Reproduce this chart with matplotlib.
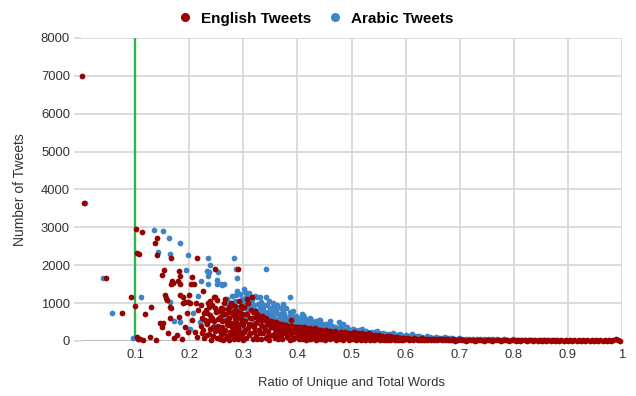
import matplotlib
matplotlib.use("Agg")
import matplotlib.pyplot as plt
from matplotlib.lines import Line2D

plt.rcParams["font.family"] = ["Liberation Sans", "DejaVu Sans"]

# (ratio of unique to total words, number of tweets)
english_points = [
    (0.002, 7000), (0.005, 3650), (0.046, 1660), (0.076, 740), (0.092, 1160), (0.100, 920),
    (0.102, 2960), (0.113, 2880), (0.104, 2320), (0.107, 2300), (0.105, 50), (0.114, 20),
    (0.141, 2730), (0.136, 2580), (0.140, 2270), (0.166, 2200), (0.214, 2190), (0.154, 1880),
    (0.150, 1740), (0.182, 1850), (0.183, 1720), (0.205, 1700), (0.168, 1580), (0.170, 1530),
    (0.166, 1500), (0.180, 1580), (0.183, 1500), (0.203, 1500), (0.209, 1500), (0.248, 1900),
    (0.226, 1320), (0.200, 1210), (0.155, 1210), (0.157, 1130), (0.129, 900), (0.166, 860),
    (0.189, 1000), (0.192, 1020), (0.198, 1040), (0.213, 1000), (0.248, 1170), (0.238, 1060),
    (0.291, 1890), (0.146, 470), (0.149, 380), (0.161, 200), (0.165, 600), (0.177, 160),
    (0.195, 730), (0.192, 380), (0.198, 250), (0.214, 110), (0.128, 110), (0.139, 30),
    (0.109, 40), (0.103, 100), (0.232, 730), (0.238, 550), (0.244, 380), (0.165, 900),
    (0.158, 1080), (0.201, 1000), (0.183, 1210), (0.189, 1170), (0.118, 700), (0.152, 470),
    (0.172, 80), (0.186, 40), (0.205, 560), (0.210, 250), (0.217, 820), (0.182, 640),
    (0.316, 1150), (0.388, 550), (0.423, 310),
    # 0.22 - 0.30
    (0.221, 950), (0.224, 620), (0.226, 300), (0.228, 80), (0.231, 820), (0.233, 440),
    (0.236, 180), (0.239, 690), (0.241, 30), (0.243, 960), (0.245, 520), (0.247, 260),
    (0.249, 760), (0.251, 90), (0.252, 1080), (0.254, 400), (0.256, 640), (0.258, 170),
    (0.259, 880), (0.261, 530), (0.263, 20), (0.264, 990), (0.266, 300), (0.268, 720),
    (0.269, 450), (0.271, 120), (0.272, 850), (0.274, 600), (0.276, 240), (0.277, 1000),
    (0.279, 380), (0.281, 680), (0.282, 60), (0.284, 920), (0.286, 510), (0.287, 200),
    (0.289, 780), (0.291, 340), (0.292, 1050), (0.294, 600), (0.296, 110), (0.297, 860),
    (0.299, 430), (0.301, 250),
    (0.222, 400), (0.227, 740), (0.232, 150), (0.237, 900), (0.242, 600), (0.246, 1150),
    (0.250, 350), (0.255, 800), (0.257, 50), (0.262, 700), (0.265, 200), (0.267, 1100),
    (0.270, 560), (0.273, 30), (0.275, 930), (0.278, 480), (0.280, 140), (0.283, 800),
    (0.285, 300), (0.288, 650), (0.290, 40), (0.293, 460), (0.295, 930), (0.298, 180),
    (0.300, 700),
    (0.223, 210), (0.229, 560), (0.234, 1000), (0.238, 320), (0.244, 130), (0.248, 880),
    (0.253, 580), (0.256, 260), (0.260, 380), (0.263, 850), (0.268, 80), (0.271, 410),
    (0.274, 760), (0.279, 950), (0.281, 260), (0.284, 570), (0.287, 420), (0.289, 110),
    (0.292, 240), (0.294, 750), (0.297, 560), (0.299, 30),
    # 0.30 - 0.40
    (0.302, 900), (0.303, 520), (0.305, 80), (0.306, 700), (0.308, 330), (0.309, 1000),
    (0.311, 160), (0.312, 610), (0.314, 820), (0.315, 420), (0.317, 40), (0.318, 760),
    (0.320, 250), (0.321, 640), (0.323, 480), (0.324, 130), (0.326, 700), (0.327, 560),
    (0.329, 300), (0.330, 620), (0.332, 60), (0.333, 420), (0.335, 660), (0.336, 200),
    (0.338, 560), (0.339, 380), (0.341, 90), (0.342, 600), (0.344, 460), (0.345, 260),
    (0.347, 540), (0.348, 30), (0.350, 420), (0.351, 520), (0.353, 150), (0.354, 480),
    (0.356, 330), (0.357, 500), (0.359, 70), (0.360, 440), (0.362, 240), (0.363, 480),
    (0.365, 380), (0.366, 120), (0.368, 450), (0.369, 300), (0.371, 460), (0.372, 40),
    (0.374, 400), (0.375, 200), (0.377, 420), (0.378, 320), (0.380, 100), (0.381, 400),
    (0.383, 260), (0.384, 380), (0.386, 30), (0.387, 360), (0.389, 180), (0.390, 390),
    (0.392, 300), (0.393, 80), (0.395, 360), (0.396, 240), (0.398, 380), (0.399, 140),
    (0.304, 300), (0.307, 1100), (0.310, 460), (0.313, 220), (0.316, 620), (0.319, 380),
    (0.322, 800), (0.325, 50), (0.328, 660), (0.331, 200), (0.334, 560), (0.337, 640),
    (0.340, 300), (0.343, 520), (0.346, 140), (0.349, 500), (0.352, 360), (0.355, 440),
    (0.358, 200), (0.361, 500), (0.364, 60), (0.367, 400), (0.370, 160), (0.373, 430),
    (0.376, 380), (0.379, 420), (0.382, 160), (0.385, 340), (0.388, 400), (0.391, 60),
    (0.394, 280), (0.397, 360),
    # 0.40 - 0.50
    (0.401, 380), (0.403, 60), (0.404, 380), (0.406, 250), (0.407, 340), (0.409, 120),
    (0.410, 340), (0.412, 360), (0.413, 200), (0.415, 30), (0.416, 330), (0.418, 290),
    (0.419, 130), (0.421, 320), (0.422, 60), (0.424, 330), (0.425, 210), (0.427, 300),
    (0.428, 100), (0.430, 300), (0.431, 310), (0.433, 170), (0.434, 30), (0.436, 290),
    (0.437, 240), (0.439, 100), (0.440, 280), (0.442, 190), (0.443, 300), (0.445, 60),
    (0.446, 250), (0.448, 260), (0.449, 140), (0.451, 30), (0.452, 280), (0.454, 190),
    (0.455, 90), (0.457, 250), (0.458, 220), (0.460, 50), (0.461, 260), (0.463, 150),
    (0.464, 240), (0.466, 80), (0.467, 200), (0.469, 260), (0.470, 120), (0.472, 30),
    (0.473, 220), (0.475, 150), (0.476, 220), (0.478, 60), (0.479, 180), (0.481, 240),
    (0.482, 110), (0.484, 30), (0.485, 200), (0.487, 140), (0.488, 240), (0.490, 70),
    (0.491, 170), (0.493, 220), (0.494, 100), (0.496, 30), (0.497, 180), (0.499, 120),
    (0.402, 200), (0.405, 330), (0.408, 50), (0.411, 240), (0.414, 300), (0.417, 100),
    (0.420, 240), (0.423, 310), (0.426, 60), (0.429, 200), (0.432, 330), (0.435, 110),
    (0.438, 300), (0.441, 40), (0.444, 180), (0.447, 100),
    # 0.50 - 0.60
    (0.500, 220), (0.502, 60), (0.503, 150), (0.505, 240), (0.506, 100), (0.508, 30),
    (0.509, 180), (0.511, 120), (0.512, 210), (0.514, 60), (0.515, 160), (0.517, 20),
    (0.518, 110), (0.520, 200), (0.521, 70), (0.523, 150), (0.524, 30), (0.526, 180),
    (0.527, 100), (0.529, 50), (0.530, 140), (0.532, 200), (0.533, 80), (0.535, 30),
    (0.536, 130), (0.538, 170), (0.539, 60), (0.541, 110), (0.542, 20), (0.544, 150),
    (0.545, 90), (0.547, 40), (0.548, 130), (0.550, 70), (0.551, 160), (0.553, 20),
    (0.554, 100), (0.556, 50), (0.557, 130), (0.559, 80), (0.560, 20), (0.562, 110),
    (0.563, 60), (0.565, 140), (0.566, 30), (0.568, 90), (0.569, 50), (0.571, 120),
    (0.572, 20), (0.574, 80), (0.575, 40), (0.577, 100), (0.578, 60), (0.580, 20),
    (0.581, 90), (0.583, 50), (0.584, 110), (0.586, 30), (0.587, 70), (0.589, 40),
    (0.590, 90), (0.592, 20), (0.593, 60), (0.595, 80), (0.596, 30), (0.598, 50),
    (0.599, 90),
    # 0.60 - 1.00
    (0.601, 40), (0.604, 70), (0.607, 20), (0.610, 60), (0.613, 30), (0.616, 80),
    (0.619, 40), (0.622, 15), (0.625, 60), (0.628, 30), (0.631, 70), (0.634, 20),
    (0.637, 50), (0.640, 30), (0.643, 60), (0.646, 15), (0.649, 45), (0.652, 25),
    (0.655, 55), (0.658, 20), (0.661, 40), (0.664, 60), (0.667, 15), (0.670, 40),
    (0.673, 25), (0.676, 50), (0.679, 15), (0.682, 35), (0.685, 20), (0.688, 45),
    (0.691, 10), (0.694, 30), (0.697, 20), (0.700, 40), (0.704, 15), (0.708, 30),
    (0.712, 10), (0.716, 35), (0.720, 20), (0.724, 30), (0.728, 10), (0.732, 25),
    (0.736, 15), (0.740, 30), (0.744, 10), (0.748, 25), (0.752, 15), (0.756, 30),
    (0.760, 10), (0.764, 20), (0.768, 15), (0.772, 25), (0.776, 10), (0.780, 20),
    (0.784, 15), (0.788, 25), (0.792, 10), (0.796, 20), (0.800, 15), (0.804, 10),
    (0.808, 20), (0.812, 10), (0.816, 15), (0.820, 25), (0.824, 10), (0.828, 15),
    (0.832, 20), (0.836, 10), (0.840, 15), (0.844, 10), (0.848, 20), (0.852, 10),
    (0.856, 15), (0.860, 10), (0.864, 20), (0.868, 10), (0.872, 15), (0.876, 10),
    (0.880, 15), (0.884, 10), (0.888, 20), (0.892, 10), (0.896, 15), (0.900, 10),
    (0.904, 15), (0.908, 10), (0.912, 15), (0.916, 10), (0.920, 15), (0.924, 10),
    (0.928, 15), (0.932, 10), (0.936, 15), (0.940, 10), (0.944, 15), (0.948, 10),
    (0.952, 15), (0.956, 10), (0.960, 15), (0.964, 10), (0.968, 15), (0.972, 10),
    (0.976, 15), (0.980, 10), (0.984, 20), (0.988, 50), (0.992, 15), (0.996, 5),
]

arabic_points = [
    (0.008, 3650), (0.041, 1660), (0.057, 740), (0.111, 1160), (0.096, 80), (0.135, 2940),
    (0.152, 2900), (0.163, 2730), (0.183, 2580), (0.143, 2340), (0.165, 2300), (0.198, 2280),
    (0.234, 2200), (0.282, 2200), (0.194, 1870), (0.221, 1580), (0.234, 1720), (0.237, 1830),
    (0.254, 1810), (0.287, 1900), (0.289, 1670), (0.235, 1500), (0.252, 1500), (0.258, 1500),
    (0.264, 1500), (0.217, 1200), (0.165, 1020), (0.342, 1890), (0.288, 1330), (0.302, 1360),
    (0.305, 1170), (0.325, 1150), (0.330, 1150), (0.341, 1150), (0.386, 1150), (0.374, 980),
    (0.373, 800), (0.386, 770), (0.408, 710), (0.423, 600), (0.426, 550), (0.440, 550),
    (0.460, 540), (0.476, 510), (0.484, 450), (0.494, 290), (0.506, 290), (0.519, 310),
    (0.522, 220), (0.534, 200), (0.547, 270), (0.559, 200), (0.577, 200), (0.611, 180),
    (0.639, 130), (0.656, 110), (0.673, 100), (0.207, 730), (0.219, 490), (0.231, 510),
    (0.260, 640), (0.272, 950), (0.281, 1000), (0.287, 1210), (0.183, 510), (0.171, 530),
    (0.201, 320), (0.232, 1860), (0.238, 2000), (0.251, 1610), (0.260, 1480), (0.303, 1300),
    (0.275, 1010), (0.297, 1040), (0.305, 920), (0.355, 1000), (0.349, 640), (0.355, 550),
    (0.386, 550), (0.402, 550), (0.411, 690), (0.426, 400), (0.442, 550), (0.445, 330),
    (0.459, 420), (0.466, 330), (0.312, 1160), (0.331, 900), (0.337, 820), (0.371, 640),
    # main band
    (0.270, 1100), (0.276, 820), (0.279, 1180), (0.284, 1060), (0.291, 900), (0.294, 1250),
    (0.298, 1100), (0.307, 1000), (0.310, 1260), (0.313, 880), (0.316, 1080), (0.319, 940),
    (0.322, 1200), (0.328, 980), (0.333, 1040), (0.336, 880), (0.339, 760), (0.344, 960),
    (0.347, 1050), (0.350, 860), (0.353, 760), (0.357, 900), (0.360, 820), (0.363, 940),
    (0.366, 700), (0.369, 860), (0.372, 640), (0.376, 720), (0.379, 860), (0.382, 620),
    (0.389, 680), (0.392, 780), (0.395, 560), (0.398, 660), (0.404, 600), (0.407, 520),
    (0.413, 640), (0.416, 480), (0.419, 560), (0.429, 480), (0.432, 420), (0.435, 520),
    (0.438, 440), (0.447, 460), (0.450, 380), (0.453, 440), (0.456, 360), (0.463, 400),
    (0.469, 360), (0.472, 320), (0.479, 380), (0.482, 320), (0.488, 300), (0.491, 360),
    (0.497, 300), (0.500, 260), (0.503, 320), (0.510, 260), (0.513, 300), (0.516, 240),
    (0.526, 260), (0.529, 220), (0.537, 240), (0.541, 200), (0.544, 230), (0.551, 210),
    (0.554, 180), (0.563, 190), (0.566, 160), (0.570, 180), (0.582, 170), (0.586, 150),
    (0.590, 180), (0.595, 140), (0.600, 160), (0.604, 130), (0.615, 140), (0.620, 120),
    (0.625, 140), (0.630, 110), (0.645, 100), (0.650, 90), (0.662, 90), (0.668, 80),
    (0.680, 70), (0.686, 80), (0.692, 60), (0.698, 70), (0.705, 60), (0.712, 50),
    (0.718, 60), (0.725, 50), (0.732, 45), (0.738, 55), (0.745, 40), (0.752, 50),
    (0.760, 40), (0.768, 45), (0.775, 35), (0.782, 40), (0.790, 35), (0.798, 40),
    (0.805, 30), (0.812, 35), (0.820, 30), (0.828, 35), (0.836, 30), (0.844, 30),
    (0.852, 30), (0.860, 30), (0.868, 28), (0.876, 28),
    (0.306, 850), (0.315, 960), (0.321, 820), (0.327, 780), (0.332, 860), (0.338, 940),
    (0.341, 700), (0.346, 760), (0.351, 680), (0.356, 620), (0.359, 740), (0.364, 580),
    (0.368, 660), (0.373, 540), (0.377, 600), (0.381, 520), (0.385, 640), (0.391, 500),
    (0.394, 620), (0.401, 480), (0.405, 440), (0.411, 520), (0.415, 400), (0.420, 460),
    (0.425, 420), (0.433, 380), (0.437, 360), (0.444, 400), (0.449, 330), (0.455, 310),
    (0.461, 340), (0.467, 290), (0.474, 300), (0.485, 280), (0.494, 250), (0.507, 230),
    (0.520, 230), (0.532, 210), (0.548, 190), (0.558, 170), (0.575, 160),
    # mixed in with the English cloud
    (0.245, 400), (0.258, 250), (0.266, 560), (0.278, 180), (0.285, 420), (0.296, 300),
    (0.304, 620), (0.318, 480), (0.326, 280), (0.334, 700), (0.342, 400), (0.352, 560),
    (0.361, 300), (0.370, 480), (0.380, 360), (0.388, 440), (0.399, 300), (0.410, 400),
    (0.421, 300), (0.430, 350), (0.441, 280), (0.452, 300), (0.462, 220), (0.471, 250),
    (0.480, 200),
]

x_ticks = [0.1, 0.2, 0.3, 0.4, 0.5, 0.6, 0.7, 0.8, 0.9, 1.0]
x_tick_labels = ["0.1", "0.2", "0.3", "0.4", "0.5", "0.6", "0.7", "0.8", "0.9", "1"]
y_ticks = list(range(0, 8001, 1000))
threshold = 0.1

english_color = "#990000"
arabic_color = "#3d85c6"
text_color = "#333333"

eng_x, eng_y = zip(*english_points)
ara_x, ara_y = zip(*arabic_points)

fig = plt.figure(figsize=(6.36, 3.96), dpi=100)
ax = fig.add_axes([0.1274, 0.1389, 0.8506, 0.7652])

ax.scatter(ara_x, ara_y, s=17, color=arabic_color, linewidths=0, zorder=3, clip_on=False)
ax.scatter(eng_x, eng_y, s=17, color=english_color, linewidths=0, zorder=4, clip_on=False)

ax.axvline(threshold, color="#2db44a", lw=1.7, zorder=2)
ax.axhline(0, color=text_color, lw=1.0, zorder=2.5)

ax.set_xlim(0, 1)
ax.set_ylim(0, 8000)
ax.set_xticks(x_ticks)
ax.set_xticklabels(x_tick_labels)
ax.set_yticks(y_ticks)
ax.grid(True, color="#d9d9d9", lw=1.3, zorder=0)
ax.set_axisbelow(True)
for s in ax.spines.values():
    s.set_visible(False)

ax.tick_params(axis="x", length=0, pad=6, labelsize=9.4, labelcolor=text_color)
ax.tick_params(axis="y", length=5, width=1.3, color="#d9d9d9", pad=3,
               labelsize=9.4, labelcolor=text_color)
ax.yaxis.get_major_ticks()[0].tick1line.set_color(text_color)

ax.set_xlabel("Ratio of Unique and Total Words", fontsize=9.4, color=text_color)
ax.xaxis.set_label_coords(0.5, -0.12)
ax.set_ylabel("Number of Tweets", fontsize=10, color=text_color)
ax.yaxis.set_label_coords(-0.1, 0.5)

handles = [
    Line2D([], [], marker="o", ls="", color=english_color, markersize=5.5, label="English Tweets"),
    Line2D([], [], marker="o", ls="", color=arabic_color, markersize=5.5, label="Arabic Tweets"),
]
fig.legend(handles=handles, loc="upper center", bbox_to_anchor=(0.49, 1.005), ncol=2,
           frameon=False, handletextpad=0.0, columnspacing=0.6,
           prop={"weight": "bold", "size": 11})

fig.savefig("out.png", dpi=100)
